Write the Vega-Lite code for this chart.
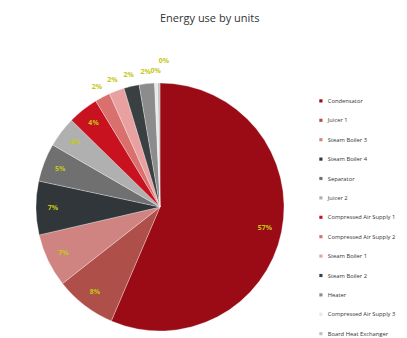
{
  "$schema": "https://vega.github.io/schema/vega-lite/v6.json",
  "autosize": {"type": "none"},
  "width": 248,
  "height": 248,
  "padding": {"left": 36, "top": 83, "right": 123, "bottom": 7},
  "background": "white",
  "title": {
    "text": "Energy use by units",
    "anchor": "start",
    "dx": 136,
    "offset": 33,
    "fontSize": 11,
    "fontWeight": "normal",
    "font": "Open Sans",
    "color": "#333333"
  },
  "data": {
    "values": [
      {"idx": 1, "unit": "Condensator", "share": 0.566},
      {"idx": 2, "unit": "Juicer 1", "share": 0.08},
      {"idx": 3, "unit": "Steam Boiler 3", "share": 0.07},
      {"idx": 4, "unit": "Steam Boiler 4", "share": 0.07},
      {"idx": 5, "unit": "Separator", "share": 0.05},
      {"idx": 6, "unit": "Juicer 2", "share": 0.04},
      {"idx": 7, "unit": "Compressed Air Supply 1", "share": 0.04},
      {"idx": 8, "unit": "Compressed Air Supply 2", "share": 0.02},
      {"idx": 9, "unit": "Steam Boiler 1", "share": 0.02},
      {"idx": 10, "unit": "Steam Boiler 2", "share": 0.02},
      {"idx": 11, "unit": "Heater", "share": 0.02},
      {"idx": 12, "unit": "Compressed Air Supply 3", "share": 0.004},
      {"idx": 13, "unit": "Board Heat Exchanger", "share": 0.003}
    ]
  },
  "encoding": {
    "theta": {"field": "share", "type": "quantitative", "stack": true},
    "order": {"field": "idx", "type": "quantitative"}
  },
  "layer": [
    {
      "mark": {"type": "arc", "stroke": "white", "strokeWidth": 0.3},
      "encoding": {
        "color": {
          "field": "unit",
          "type": "nominal",
          "scale": {
            "domain": ["Condensator", "Juicer 1", "Steam Boiler 3", "Steam Boiler 4", "Separator", "Juicer 2", "Compressed Air Supply 1", "Compressed Air Supply 2", "Steam Boiler 1", "Steam Boiler 2", "Heater", "Compressed Air Supply 3", "Board Heat Exchanger"],
            "range": ["#9B0B16", "#AE4F4A", "#D08482", "#30363A", "#707070", "#B0B0B0", "#C81220", "#D9706E", "#E8A0A0", "#3A3F42", "#8C8C8C", "#E8E8E8", "#C0C0C0"]
          },
          "legend": {
            "title": null,
            "orient": "none",
            "legendX": 282,
            "legendY": 15,
            "symbolType": "square",
            "symbolSize": 10,
            "symbolStrokeWidth": 0,
            "labelFontSize": 5.8,
            "labelFont": "Open Sans",
            "labelColor": "#333333",
            "labelLimit": 200,
            "rowPadding": 12.4,
            "labelOffset": 4
          }
        }
      }
    },
    {
      "mark": {"type": "text", "radius": 107, "fontSize": 7, "fontWeight": "bold", "font": "Open Sans", "color": "#C4C814"},
      "encoding": {
        "text": {"condition": {"test": "datum.share < 0.03", "value": ""}, "field": "share", "type": "quantitative", "format": ".0%"}
      }
    },
    {
      "mark": {"type": "text", "radius": 136, "fontSize": 7, "fontWeight": "bold", "font": "Open Sans", "color": "#C4C814"},
      "encoding": {
        "text": {"condition": {"test": "datum.share >= 0.03 || datum.share < 0.0035", "value": ""}, "field": "share", "type": "quantitative", "format": ".0%"}
      }
    },
    {
      "mark": {"type": "text", "radius": 136, "align": "left", "dy": -10, "fontSize": 7, "fontWeight": "bold", "font": "Open Sans", "color": "#C4C814"},
      "encoding": {
        "text": {"condition": {"test": "datum.share >= 0.0035", "value": ""}, "field": "share", "type": "quantitative", "format": ".0%"}
      }
    }
  ],
  "config": {"view": {"stroke": null}}
}
